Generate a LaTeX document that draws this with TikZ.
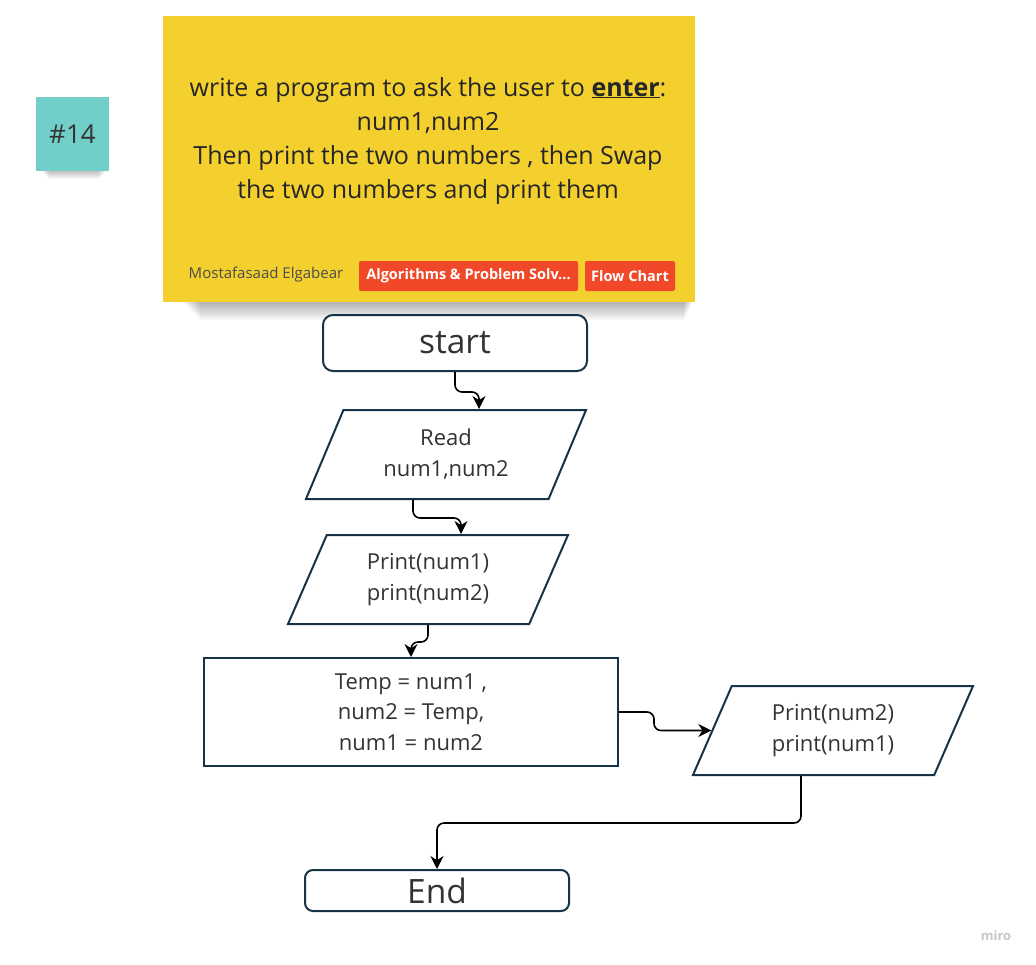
\documentclass[tikz,border=0pt]{standalone}
\usepackage{fontspec}
\setmainfont{Open Sans}
\usetikzlibrary{shapes.geometric}
\usetikzlibrary{arrows.meta}

\definecolor{noteyellow}{RGB}{244,208,46}
\definecolor{noteteal}{RGB}{114,206,200}
\definecolor{tagred}{RGB}{240,72,40}
\definecolor{edgeblue}{RGB}{22,52,70}
\definecolor{txtgrey}{RGB}{51,51,51}

\begin{document}
\begin{tikzpicture}[x=1pt,y=-1pt] % one unit = one pixel, y runs down
	\tikzset{box/.style={draw=edgeblue,line width=2pt,fill=white,text=txtgrey,align=center,inner sep=0pt}}
	\tikzset{term/.style={box,rounded corners=10pt,minimum width=264pt,font=\fontsize{33.5}{38}\selectfont}}
	\tikzset{io/.style={box,trapezium,trapezium left angle=53.5,trapezium right angle=126.5,trapezium stretches body,minimum height=89pt,font=\fontsize{22}{31}\selectfont}}
	\tikzset{proc/.style={box,minimum width=414pt,minimum height=108pt,font=\fontsize{22}{30.5}\selectfont}}
	\tikzset{arr/.style={-{Stealth[length=13pt,width=13pt]},line width=1.6pt,rounded corners=7pt}}
	\tikzset{tag/.style={fill=tagred,text=white,rounded corners=2pt,minimum height=30pt,inner sep=0pt,font=\fontsize{14.5}{18}\selectfont\bfseries}}
	
	% Page and margins
	\fill[white] (0,0) rectangle (1036,964);
	\useasboundingbox (0,0) rectangle (1036,964);
	
	% Shadows under the sticky notes
	\foreach \i in {1,...,9}
	{
		\fill[black,opacity=0.035] (182+2*\i,299) rectangle (693-\i,302+2*\i);
		\fill[black,opacity=0.03] (40+\i,168) rectangle (108-\i,170+\i);
	}
	
	% Sticky notes
	\node[fill=noteteal,minimum width=73pt,minimum height=74pt] (num) at (72.5,134) {};
	\node[font=\fontsize{26}{30}\selectfont,text=black!80] (numtext) at (72.5,134) {\#14};
	\node[fill=noteyellow,minimum width=532pt,minimum height=286pt] (note) at (429,159) {};
	\node[align=center,font=\fontsize{25}{34.3}\selectfont,text=black!85] (task) at (428,141)
		{write a program to ask the user to \underline{\textbf{enter}}:\\
		 num1,num2\\
		 Then print the two numbers , then Swap\\
		 the two numbers and print them};
	
	% Author and tags at the foot of the note
	\node[font=\fontsize{15}{18}\selectfont,text=black!70] (author) at (266,275) {Mostafasaad Elgabear};
	\node[tag,minimum width=219pt] (tagalgo) at (468.5,276) {Algorithms \& Problem Solv...};
	\node[tag,minimum width=90pt] (tagflow) at (630,276) {Flow Chart};
	
	% Flow chart blocks
	\node[term,minimum height=56pt] (start) at (455,343) {start};
	\node[io,minimum width=280pt] (read) at (446,454.5) {Read\\num1,num2};
	\node[io,minimum width=280pt] (print) at (428,579.5) {Print(num1)\\print(num2)};
	\node[proc] (swap) at (411,712) {Temp = num1 ,\\num2 = Temp,\\num1 = num2};
	\node[io,minimum width=280pt] (printb) at (833,730.5) {Print(num2)\\print(num1)};
	\node[term,minimum height=41pt,rounded corners=8pt] (end) at (437,890.5) {End};
	
	% Connectors
	\draw[arr] (start.south) -- ++(0,20) -| ([xshift=33pt]read.north);
	\draw[arr] ([xshift=-33pt]read.south) -- ++(0,18) -| ([xshift=33pt]print.north);
	\draw[arr] (print.south) -- ++(0,17) -| (swap.north);
	\draw[arr] (swap.east) -- ++(35,0) |- (printb.west);
	\draw[arr] ([xshift=-32pt]printb.south) -- ++(0,47) -| (end.north);
	
	% Board watermark
	\node[font=\fontsize{13}{14}\selectfont\bfseries,text=black!22] (miro) at (996,936) {miro};
\end{tikzpicture}
\end{document}
